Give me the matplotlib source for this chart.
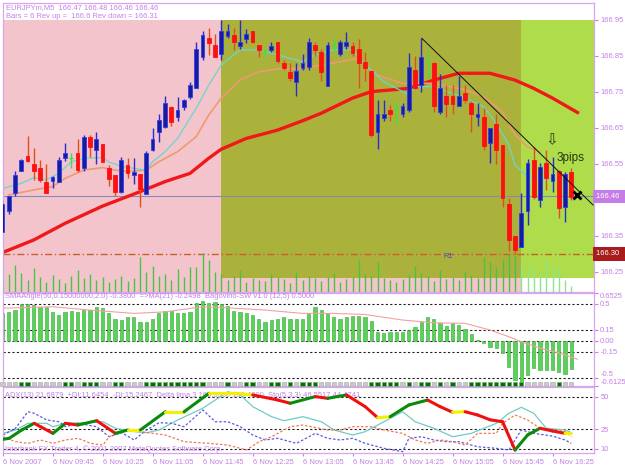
import matplotlib
matplotlib.use('Agg')
import matplotlib.pyplot as plt
import matplotlib.transforms as mtransforms
from matplotlib.patches import Rectangle
from matplotlib.collections import LineCollection

plt.rcParams['font.family'] = ['Liberation Sans', 'DejaVu Sans']

# ---- EURJPYm M5 candles, bar 0 = 6 Nov 09:05 ----
opens = [166.36, 166.42, 166.47, 166.53, 166.572, 166.55, 166.54, 166.50, 166.503, 166.50,
         166.568, 166.568, 166.58, 166.54, 166.626, 166.589, 166.605, 166.538, 166.519, 166.473,
         166.547, 166.519, 166.521, 166.468, 166.589, 166.64, 166.654, 166.709, 166.68, 166.707,
         166.737, 166.76, 166.848, 166.90, 166.88, 166.855, 166.906, 166.908, 166.879, 166.897,
         166.92, 166.88, 166.864, 166.867, 166.888, 166.83, 166.806, 166.779, 166.818, 166.82,
         166.88, 166.86, 166.767, 166.88, 166.855, 166.879, 166.879, 166.87, 166.834, 166.808,
         166.64, 166.677, 166.70, 166.70, 166.69, 166.70, 166.81, 166.77, 166.83, 166.83,
         166.695, 166.74, 166.74, 166.71, 166.746, 166.72, 166.68, 166.68, 166.607, 166.66,
         166.603, 166.44, 166.35, 166.32, 166.42, 166.56, 166.45, 166.552, 166.503, 166.53,
         166.431, 166.529]
highs = [166.45, 166.46, 166.53, 166.565, 166.629, 166.595, 166.56, 166.55, 166.517, 166.57,
         166.607, 166.58, 166.62, 166.63, 166.63, 166.64, 166.605, 166.547, 166.52, 166.57,
         166.568, 166.568, 166.521, 166.585, 166.65, 166.688, 166.74, 166.71, 166.737, 166.73,
         166.779, 166.89, 166.919, 166.928, 166.91, 166.95, 166.938, 166.928, 166.95, 166.925,
         166.92, 166.88, 166.87, 166.89, 166.888, 166.84, 166.83, 166.83, 166.855, 166.90,
         166.89, 166.87, 166.89, 166.90, 166.895, 166.918, 166.89, 166.897, 166.86, 166.81,
         166.728, 166.728, 166.715, 166.725, 166.72, 166.857, 166.85, 166.90, 166.86, 166.834,
         166.80, 166.77, 166.77, 166.795, 166.77, 166.725, 166.72, 166.705, 166.65, 166.69,
         166.603, 166.456, 166.35, 166.47, 166.564, 166.598, 166.552, 166.589, 166.57, 166.533,
         166.529, 166.54]
lows = [166.36, 166.41, 166.46, 166.53, 166.556, 166.505, 166.50, 166.47, 166.483, 166.50,
        166.557, 166.54, 166.529, 166.53, 166.57, 166.55, 166.556, 166.49, 166.46, 166.47,
        166.51, 166.495, 166.43, 166.468, 166.585, 166.612, 166.65, 166.655, 166.67, 166.70,
        166.73, 166.76, 166.84, 166.853, 166.848, 166.84, 166.90, 166.867, 166.87, 166.886,
        166.885, 166.848, 166.845, 166.86, 166.83, 166.81, 166.78, 166.74, 166.81, 166.81,
        166.85, 166.78, 166.767, 166.86, 166.85, 166.87, 166.85, 166.76, 166.78, 166.625,
        166.592, 166.67, 166.67, 166.66, 166.68, 166.695, 166.757, 166.75, 166.79, 166.695,
        166.69, 166.68, 166.69, 166.71, 166.72, 166.64, 166.655, 166.59, 166.552, 166.55,
        166.43, 166.307, 166.30, 166.32, 166.38, 166.452, 166.43, 166.478, 166.473, 166.399,
        166.39, 166.45]
closes = [166.44, 166.46, 166.52, 166.56, 166.559, 166.53, 166.505, 166.47, 166.513, 166.56,
          166.58, 166.568, 166.533, 166.626, 166.598, 166.619, 166.556, 166.508, 166.473, 166.561,
          166.524, 166.529, 166.48, 166.58, 166.62, 166.672, 166.719, 166.666, 166.70, 166.728,
          166.769, 166.869, 166.908, 166.885, 166.848, 166.92, 166.92, 166.888, 166.888, 166.91,
          166.888, 166.867, 166.864, 166.879, 166.836, 166.817, 166.788, 166.808, 166.83, 166.89,
          166.867, 166.806, 166.88, 166.88, 166.888, 166.888, 166.857, 166.83, 166.817, 166.63,
          166.69, 166.69, 166.69, 166.70, 166.71, 166.82, 166.76, 166.848, 166.83, 166.71,
          166.76, 166.716, 166.716, 166.74, 166.728, 166.688, 166.69, 166.60, 166.649, 166.589,
          166.455, 166.34, 166.31, 166.413, 166.552, 166.459, 166.543, 166.51, 166.521, 166.427,
          166.521, 166.459]
volumes = [14, 18, 27, 19, 12, 24, 15, 10, 17, 13, 9, 16, 22, 14, 18, 12, 15, 10, 13, 16,
           11, 14, 35, 20, 26, 16, 18, 12, 23, 15, 25, 25, 39, 32, 20, 18, 12, 16, 22, 10,
           14, 12, 11, 18, 15, 13, 9, 20, 12, 16, 14, 11, 15, 19, 10, 13, 15, 32, 18, 16,
           30, 14, 12, 10, 13, 17, 26, 19, 16, 11, 22, 13, 15, 12, 20, 17, 14, 35, 30, 25,
           33, 38, 36, 30, 28, 24, 20, 32, 25, 27, 12, 6]

# moving averages (bar index, price)
ma_slow_x = [0, 5, 10, 16, 22, 26, 30, 33, 35, 39, 44, 48, 51, 56, 59, 65, 69, 73, 78, 82, 85, 88, 92]
ma_slow_y = [166.304, 166.339, 166.385, 166.433, 166.473, 166.501, 166.524, 166.566, 166.591, 166.621,
             166.644, 166.670, 166.691, 166.733, 166.751, 166.760, 166.783, 166.802, 166.802, 166.783,
             166.760, 166.733, 166.693]
ma_fast_x = [0, 3, 5, 7, 9, 11, 13, 16, 17, 19, 21, 23, 24, 26, 28, 31, 33, 35, 38, 41, 44, 48, 50,
             53, 56, 58, 61, 65, 66, 69, 72, 74, 77, 79, 81, 82, 84, 86, 90]
ma_fast_y = [166.482, 166.496, 166.512, 166.506, 166.524, 166.556, 166.566, 166.568, 166.556, 166.543,
             166.538, 166.533, 166.556, 166.584, 166.621, 166.705, 166.769, 166.825, 166.867, 166.867,
             166.853, 166.834, 166.853, 166.867, 166.867, 166.825, 166.779, 166.742, 166.765, 166.765,
             166.746, 166.733, 166.709, 166.663, 166.603, 166.547, 166.515, 166.510, 166.506]
ma_mid_x = [1, 5, 8, 10, 13, 16, 18, 20, 23, 25, 28, 31, 33, 35, 38, 41, 44, 48, 51, 54, 57, 58,
            60, 64, 69, 74, 77, 80, 82, 84, 86]
ma_mid_y = [166.464, 166.478, 166.487, 166.510, 166.533, 166.540, 166.533, 166.529, 166.533, 166.556,
            166.584, 166.626, 166.686, 166.733, 166.783, 166.806, 166.814, 166.816, 166.825, 166.834,
            166.844, 166.825, 166.797, 166.774, 166.774, 166.756, 166.737, 166.695, 166.631, 166.598,
            166.583]

trend_x = [67.1, 94.5]
trend_y = [166.899, 166.436]
bid = 166.46
r1 = 166.30

# colour zones (bar index edges, price top / bottom)
zone_edges = [-1.0, 34.96, 82.96, 95.0]
zone_top = 166.95
zone_bottom = 166.233

# ---- SMAAngle sub window ----
sma_angle = [0.37, 0.39, 0.42, 0.50, 0.50, 0.48, 0.46, 0.45, 0.39, 0.35,
             0.39, 0.40, 0.39, 0.42, 0.42, 0.46, 0.44, 0.38, 0.30, 0.28,
             0.315, 0.325, 0.26, 0.25, 0.30, 0.38, 0.405, 0.40, 0.38, 0.38,
             0.39, 0.505, 0.54, 0.51, 0.52, 0.50, 0.47, 0.405, 0.39, 0.37,
             0.35, 0.29, 0.25, 0.28, 0.29, 0.315, 0.29, 0.30, 0.30, 0.37,
             0.46, 0.42, 0.38, 0.325, 0.30, 0.315, 0.33, 0.33, 0.325, 0.265,
             0.12, 0.11, 0.12, 0.12, 0.115, 0.145, 0.19, 0.26, 0.315, 0.29,
             0.245, 0.20, 0.235, 0.21, 0.165, 0.09, 0.01, -0.035, -0.08, -0.10,
             -0.17, -0.35, -0.53, -0.58, -0.46, -0.37, -0.395, -0.40, -0.395, -0.42,
             -0.45, -0.38]
sma_ma_x = [0, 8, 14, 21, 26, 32, 37, 42, 48, 53, 58, 64, 69, 74, 78, 81, 83, 86, 89, 92]
sma_ma_y = [0.44, 0.46, 0.415, 0.37, 0.39, 0.46, 0.44, 0.415, 0.37, 0.37,
            0.355, 0.28, 0.243, 0.235, 0.145, 0.055, -0.014, -0.10, -0.165, -0.25]
sw_state = [0, 0, 0, 1, 1, 0, 0, 0, 0, 0, 1, 1, 0, 1, 1, 1, 0, 0, 1, 1,
            0, 0, 0, 1, 1, 1, 1, 1, 1, 1, 1, 1, 1, 0, 0, 0, 1, 0, 0, 1,
            1, 0, 0, 1, 1, 0, 1, 0, 1, 1, 1, 0, 0, 0, 0, 0, 0, 0, 0, 1,
            1, 1, 1, 1, 0, 1, 0, 1, 1, 0, 1, 0, 1, 0, 0, 1, 1, 1, 1, 1,
            1, 1, 1, 1, 0, 0, 0, 0, 0, 1, 0, 0]

# ---- ADX sub window ----
adx_x = [0, 1, 3, 5, 6, 8, 10, 12, 15, 18, 20, 22, 26, 29, 33, 37, 40, 44, 46, 50,
         52, 55, 58, 60, 62, 65, 68, 70, 72, 74, 76, 78, 80, 82, 84, 86, 88, 90, 91]
adx_y = [17.3, 18.1, 24.5, 29.6, 27.0, 21.9, 29.6, 28.3, 31.6, 21.9, 24.5, 24.5, 38.5, 38.5,
         52.7, 52.7, 51.4, 47.5, 45.0, 50.1, 48.8, 51.4, 42.4, 33.9, 34.7, 43.7, 47.5, 42.4,
         38.1, 38.5, 36.0, 32.3, 30.8, 9.1, 20.6, 25.8, 23.7, 21.9, 21.7]
cyan_x = [0, 2, 4, 7, 8, 10, 13, 16, 18, 21, 23, 25, 28, 32, 34, 36, 38, 40, 43, 45, 48, 51,
          53, 56, 58, 61, 64, 66, 69, 72, 75, 79, 81, 83, 85, 87, 90, 91]
cyan_y = [21.9, 24.5, 29.6, 29.6, 27.0, 29.6, 30.1, 30.8, 25.8, 23.2, 22.4, 24.5, 32.2, 41.2,
          47.5, 53.9, 51.4, 42.4, 34.7, 31.6, 34.7, 30.8, 24.5, 20.6, 23.2, 30.8, 38.5, 30.8,
          25.8, 19.3, 21.9, 29.6, 37.3, 41.9, 37.3, 25.8, 24.5, 22.4]
pdi_x = [0, 2, 4, 5, 7, 9, 10, 12, 15, 17, 19, 21, 23, 25, 27, 29, 32, 34, 36, 38, 40, 42, 44,
         47, 50, 52, 54, 56, 58, 61, 64, 65, 67, 69, 71, 73, 76, 79, 81, 83, 85, 88, 90, 91]
pdi_y = [20.6, 25.8, 38.5, 37.3, 32.2, 30.8, 27.0, 29.6, 27.0, 19.3, 22.4, 16.8, 24.5, 30.1,
         29.6, 27.0, 39.8, 30.8, 30.8, 27.0, 20.6, 16.8, 18.1, 14.2, 21.9, 18.1, 16.8, 18.1,
         14.2, 10.4, 7.8, 18.1, 19.3, 16.8, 15.5, 15.5, 11.6, 10.4, 9.1, 24.5, 21.9, 19.8,
         16.8, 14.2]
mdi_x = [0, 2, 4, 6, 8, 10, 12, 14, 16, 17, 20, 22, 24, 26, 29, 33, 36, 39, 41, 43, 46, 48,
         52, 54, 56, 59, 61, 64, 66, 68, 70, 72, 74, 76, 79, 80, 82, 84, 86, 88, 90, 91]
mdi_y = [19.3, 15.5, 14.2, 16.8, 14.2, 16.8, 18.1, 14.2, 12.9, 19.3, 24.5, 23.2, 21.9, 20.6,
         15.5, 14.2, 12.9, 9.1, 15.5, 19.3, 27.0, 28.3, 24.5, 24.5, 27.0, 27.0, 24.5, 21.9,
         16.8, 14.2, 16.8, 15.5, 12.9, 21.9, 21.9, 29.6, 36.0, 32.2, 25.8, 24.5, 23.2, 19.3]

time_ticks = [0, 8, 16, 24, 32, 40, 48, 56, 64, 72, 80, 88]
time_labels = ['6 Nov 2007', '6 Nov 09:45', '6 Nov 10:25', '6 Nov 11:05', '6 Nov 11:45',
               '6 Nov 12:25', '6 Nov 13:05', '6 Nov 13:45', '6 Nov 14:25', '6 Nov 15:05',
               '6 Nov 15:45', '6 Nov 16:25']

# ---- figure ----
W, H = 625, 469
VIOLET = '#C47EE6'
FS = 5.4


def box(x0, y0, x1, y1):
    return [x0 / W, 1 - y1 / H, (x1 - x0) / W, (y1 - y0) / H]


fig = plt.figure(figsize=(W / 100, H / 100), dpi=100)
ax1 = fig.add_axes(box(3, 3, 594, 292))
ax2 = fig.add_axes(box(3, 292.5, 594, 386))
ax3 = fig.add_axes(box(3, 387, 594, 453))
XL = (0.08, 94.64)

# volumes live on a twin axis (pixels of height ~ ticks)
axv = ax1.twinx()
axv.set_xlim(*XL)
axv.set_ylim(0, 289)
axv.axis('off')
for i, v in enumerate(volumes):
    col = '#46C446' if i < 83 else '#8CE48C'
    axv.vlines(i, 0, v, color=col, lw=1)

for ax in (ax1, ax2, ax3):
    ax.set_xlim(*XL)
    for s in ax.spines.values():
        s.set_color('#D8A6EC')
        s.set_linewidth(0.9)
    ax.yaxis.tick_right()
    ax.tick_params(axis='y', colors=VIOLET, labelsize=FS, length=3, width=0.8, pad=1.5,
                   left=False, labelleft=False, right=True, labelright=True)
    ax.tick_params(axis='x', bottom=False, labelbottom=False)

# main window
ax1.set_ylim(166.1944, 166.9972)
ax1.add_patch(Rectangle((zone_edges[0], 166.10), zone_edges[2] - zone_edges[0], zone_top - 166.10,
                        facecolor='#F3C4CC', edgecolor='none', zorder=0))
ax1.add_patch(Rectangle((zone_edges[1], zone_bottom), zone_edges[2] - zone_edges[1], zone_top - zone_bottom,
                        facecolor='#ABB23C', edgecolor='none', zorder=0))
ax1.add_patch(Rectangle((zone_edges[2], zone_bottom), zone_edges[3] - zone_edges[2], zone_top - zone_bottom,
                        facecolor='#AEDC4A', edgecolor='none', zorder=0))

ax1.axhline(bid, color='#8A8AB0', lw=0.8, zorder=1)
ax1.axhline(r1, color='#C8602A', lw=1.0, dashes=(5, 2, 1, 2), zorder=1)

ax1.plot(ma_slow_x, ma_slow_y, color='#F01818', lw=2.4, zorder=2)
ax1.plot(ma_mid_x, ma_mid_y, color='#EE9A70', lw=1.2, zorder=2)
ax1.plot(ma_fast_x, ma_fast_y, color='#6CD6CC', lw=0.9, zorder=2)

for i in range(len(opens)):
    o, h, l, c = opens[i], highs[i], lows[i], closes[i]
    if abs(c - o) < 0.002:
        ax1.vlines(i, l, h, color='#40E040', lw=1, zorder=3)
        ax1.hlines(o, i - 0.3, i + 0.3, color='#40E040', lw=1, zorder=3)
        continue
    if c > o:
        face, edge, wick = '#1A1A9C', '#2A40F0', '#2A2AD0'
    else:
        face, edge, wick = '#FF1010', '#FF1010', '#E05018'
    ax1.vlines(i, l, h, color=wick, lw=1, zorder=3)
    ax1.bar(i, abs(c - o), bottom=min(o, c), width=0.62, color=face,
            edgecolor=edge, linewidth=0.6, zorder=4)

ax1.plot(trend_x, trend_y, color='#101010', lw=0.7, zorder=5)
ax1.plot(91.9, 166.464, marker='x', color='black', ms=6, mew=2, zorder=6)
ax1.text(87.9, 166.617, '\u21e9', fontsize=11, color='#2E3A10', ha='center', va='center',
         family='DejaVu Sans', zorder=6)
ax1.text(88.6, 166.567, '3pips', fontsize=8.5, color='#2A3510', ha='left', va='center', zorder=6)
ax1.text(70.6, 166.292, 'R1', fontsize=FS, color='#4050C8', ha='left', va='center', zorder=6)

# 166.45 sits under the bid box in the terminal, so only its tick is kept
ax1.set_yticks([166.95, 166.85, 166.75, 166.65, 166.55, 166.45, 166.35, 166.25])
ax1.set_yticklabels(['166.95', '166.85', '166.75', '166.65', '166.55', '', '166.35', '166.25'])
trans = mtransforms.blended_transform_factory(ax1.transAxes, ax1.transData)
ax1.text(1.003, bid, '166.46  ', transform=trans, fontsize=FS, color='white', va='center', ha='left',
         bbox=dict(facecolor='#C47EE6', edgecolor='none', pad=2.2), zorder=10, clip_on=False)
ax1.text(1.003, r1, '166.30  ', transform=trans, fontsize=FS, color='white', va='center', ha='left',
         bbox=dict(facecolor='#A81C1C', edgecolor='none', pad=2.2), zorder=10, clip_on=False)

fig.text(6 / W, 1 - 7.5 / H, 'EURJPYm,M5  166.47 166.48 166.46 166.46', fontsize=FS, color=VIOLET, va='center')
fig.text(6 / W, 1 - 16 / H, 'Bars = 6 Rev up =  166.6 Rev down = 166.31', fontsize=FS, color=VIOLET, va='center')

# SMAAngle window
ax2.set_ylim(-0.6125, 0.6525)
ax2.bar(range(len(sma_angle)), sma_angle, width=0.55, color='#5AD25A', edgecolor='#34A834',
        linewidth=0.4, zorder=2)
for lv in (0.5, 0.15, 0.0, -0.15, -0.5):
    ax2.axhline(lv, color='#202020', lw=0.8, ls=(0, (2, 2)), zorder=1)
ax2.plot(sma_ma_x, sma_ma_y, color='#F4A0A0', lw=0.8, zorder=3)
sq_x = list(range(len(sw_state)))
sq_face = ['#0B6B0B' if s else '#C8C8C8' for s in sw_state]
sq_edge = ['#66B866' if s else '#B4B4B4' for s in sw_state]
ax2.scatter(sq_x, [-0.585] * len(sq_x), marker='s', s=9, c=sq_face, edgecolors=sq_edge,
            linewidths=0.5, zorder=4, clip_on=False)
ax2.set_yticks([0.6525, 0.5, 0.15, 0.0, -0.15, -0.5, -0.6125])
ax2.set_yticklabels(['0.6525', '0.5', '0.15', '0.00', '-0.15', '-0.5', '-0.6125'])
labs = ax2.get_yticklabels()
labs[0].set_va('top')
labs[5].set_va('bottom')
labs[-1].set_va('bottom')
ax2.text(0.004, 0.955, 'SMAAngle(50,0.15000000,2.0) -0.3800  =>MA(21) -0.2498  Bagovino-SW v1.0 (12,5) 0.5000',
         transform=ax2.transAxes, fontsize=FS, color=VIOLET, va='center', zorder=5)

# ADX window
ax3.set_ylim(6.8, 57.5)
for lv in (50, 25, 10):
    ax3.axhline(lv, color='#202020', lw=0.8, ls=(0, (2, 2)), zorder=1)
ax3.plot(cyan_x, cyan_y, color='#70CCC4', lw=0.9, zorder=2)
ax3.plot(pdi_x, pdi_y, color='#5A5AE6', lw=0.9, dashes=(2, 1.5), zorder=2)
ax3.plot(mdi_x, mdi_y, color='#F07858', lw=0.9, dashes=(2, 1.5), zorder=2)
segs, cols = [], []
for k in range(len(adx_x) - 1):
    x0, x1, y0, y1 = adx_x[k], adx_x[k + 1], adx_y[k], adx_y[k + 1]
    slope = (y1 - y0) / (x1 - x0)
    segs.append([(x0, y0), (x1, y1)])
    cols.append('#0A8A0A' if slope > 0.6 else ('#F01010' if slope < -0.6 else '#F4F000'))
ax3.add_collection(LineCollection(segs, colors=cols, linewidths=2.2, zorder=3, capstyle='round'))
ax3.set_yticks([50, 25, 10])
ax3.set_yticklabels(['50', '25', '10'])
ax3.text(0.004, 0.87, 'ADX(13) 21.6879  +DI:11.6454  -DI:15.2467  Delta lima 3 166.5300 166.4800  Sto(5,3,3) 46.5517 44.4741',
         transform=ax3.transAxes, fontsize=FS, color=VIOLET, va='center', zorder=1)
ax3.text(0.004, 0.06, 'Interbank FX Trader 4, \u00a9 2001-2007 MetaQuotes Software Corp.',
         transform=ax3.transAxes, fontsize=FS, color=VIOLET, va='center', zorder=5)
ax3.set_xticks(time_ticks)
ax3.set_xticklabels(time_labels)
ax3.tick_params(axis='x', bottom=True, labelbottom=True, colors=VIOLET, labelsize=FS,
                length=2, width=0.8, pad=2)
for lbl in ax3.get_xticklabels():
    lbl.set_ha('left')

fig.savefig('out.png', dpi=100, facecolor='white')
plt.close(fig)
